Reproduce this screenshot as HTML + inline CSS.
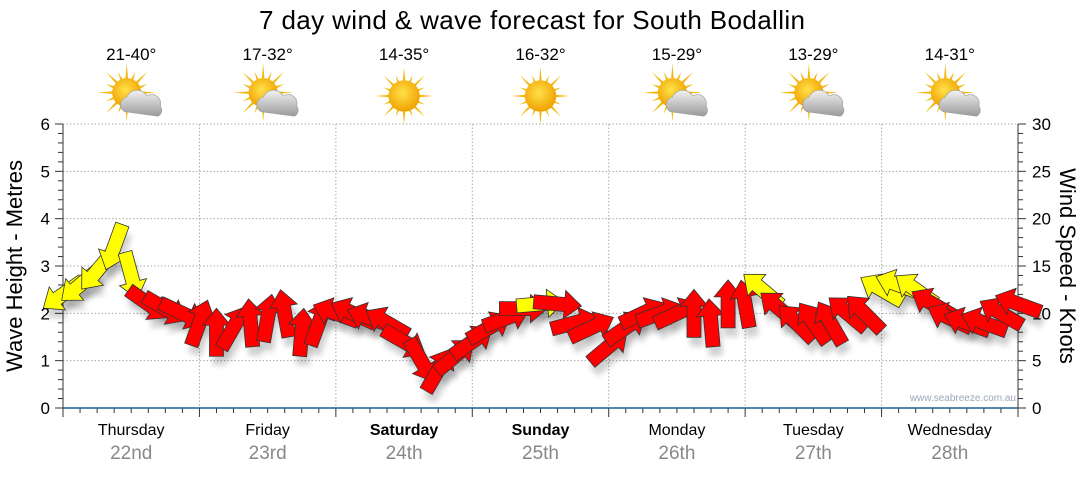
<!DOCTYPE html>
<html><head><meta charset="utf-8"><style>
body{margin:0;background:#fff;}
svg{font-family:"Liberation Sans",sans-serif;}
</style></head><body>
<svg id="chart" width="1080" height="475" viewBox="0 0 1080 475">
<defs>
<filter id="sh" x="-50%" y="-50%" width="200%" height="200%"><feGaussianBlur stdDeviation="3"/></filter>
<radialGradient id="sun" cx="45%" cy="40%" r="60%"><stop offset="0" stop-color="#ffe24a"/><stop offset="1" stop-color="#f0a000"/></radialGradient>
<linearGradient id="cloud" x1="0" y1="0" x2="0" y2="1"><stop offset="0" stop-color="#f2f2f2"/><stop offset="1" stop-color="#9a9a9a"/></linearGradient>
</defs>
<text x="532" y="29" font-size="26" text-anchor="middle" fill="#000" textLength="546">7 day wind &amp; wave forecast for South Bodallin</text>
<g id="grid"></g>
<g id="axes"></g>
<g id="icons"></g>
<g id="shadows"></g>
<g id="arrows"></g>
<text x="1016" y="401" font-size="10" text-anchor="end" fill="#9aa8bb">www.seabreeze.com.au</text>
<text transform="translate(22,266) rotate(-90)" font-size="22" text-anchor="middle" fill="#000">Wave Height - Metres</text>
<text transform="translate(1060,266) rotate(90)" font-size="22" text-anchor="middle" fill="#000">Wind Speed - Knots</text>
</svg>
<script>
const days = ["Thursday","Friday","Saturday","Sunday","Monday","Tuesday","Wednesday"];
const dates = ["22nd","23rd","24th","25th","26th","27th","28th"];
const temps = ["21-40°","17-32°","14-35°","16-32°","15-29°","13-29°","14-31°"];
const sunny = [false,false,true,true,false,false,false];
const boldDays = [false,false,true,true,false,false,false];
const waveTicks = [0,1,2,3,4,5,6];
const windTicks = [0,5,10,15,20,25,30];
// wind speed (knots) every 3 hours
const windSpeed = [12,13,14.5,17,14,11,10.5,10,
  9,8,8.5,9,9.5,10,8,9,
  10,10,9.5,9,7,5,4,5.5,
  7,8.5,9.5,10.5,11,11,9,8.5,
  6.5,8.5,10,10,10,10,9,11,
  11,12.5,10.5,9,9,9,10,10,
  12.5,13,12.5,11,9.5,9,9,10,11];
// arrow direction, screen degrees (0 = right, 90 = down)
const windDir = [145,140,130,110,75,35,30,25,
  -70,-90,-60,-95,-80,-100,-85,-70,
  -160,-155,-160,-150,30,60,-60,-40,
  -35,-30,-20,0,-5,5,-15,-25,
  -40,-35,-25,-20,-25,-90,-95,-90,
  -100,-140,-140,-135,-125,-120,-140,-135,
  -150,-160,-145,-150,-155,-160,-160,-150,-160];
const windColor = ["y","y","y","y","y","r","r","r",
  "r","r","r","r","r","r","r","r",
  "r","r","r","r","r","r","r","r",
  "r","r","r","r","y","r","r","r",
  "r","r","r","r","r","r","r","r",
  "r","y","r","r","r","r","r","r",
  "y","y","y","r","r","r","r","r","r"];
const NS="http://www.w3.org/2000/svg";
const X0=63,X1=1018,Y0=408,Y1=124;
const dayW=(X1-X0)/7;
function xT(h){return X0+h/24*dayW;}
function yW(m){return Y0-(m/6)*(Y0-Y1);}
function yK(k){return Y0-(k/30)*(Y0-Y1);}
function mk(tag,attrs,parent){const e=document.createElementNS(NS,tag);for(const k in attrs)e.setAttribute(k,attrs[k]);parent.appendChild(e);return e;}
const grid=document.getElementById('grid'),axes=document.getElementById('axes'),icons=document.getElementById('icons');
waveTicks.forEach(v=>{
  if(v>0){const l=mk('line',{x1:X0,x2:X1,y1:yW(v),y2:yW(v),stroke:'#aaa','stroke-dasharray':'1.5,2'},grid);
  
  }
  const t=mk('text',{x:X0-13,y:yW(v)+6,'font-size':17,'text-anchor':'end',fill:'#000'},axes);t.textContent=v;
  
  
});
for(let i=0;i<=30;i++){const y=yK(i);mk('line',{x1:X1,x2:X1+(i%5?5:8),y1:y,y2:y,stroke:'#333'},axes);}
for(let i=0;i<=30;i++){const y=yW(i*0.2);mk('line',{x1:X0,x2:X0-(i%5?5:8),y1:y,y2:y,stroke:'#333'},axes);}
windTicks.forEach(v=>{const t=mk('text',{x:X1+14,y:yK(v)+6,'font-size':17,fill:'#000'},axes);t.textContent=v;
  
  });
mk('line',{x1:X0,x2:X0,y1:Y1,y2:Y0,stroke:'#333'},axes);
mk('line',{x1:X1,x2:X1,y1:Y1,y2:Y0,stroke:'#333'},axes);
for(let d=1;d<7;d++){const l=mk('line',{x1:xT(d*24),x2:xT(d*24),y1:Y1,y2:Y0,stroke:'#aaa','stroke-dasharray':'1.5,2'},grid);
  
  }
for(let h=0;h<=168;h+=3){const x=xT(h);mk('line',{x1:x,x2:x,y1:Y0,y2:Y0+(h%24?5:9),stroke:'#333'},axes);}
mk('line',{x1:X0,x2:X1,y1:Y0,y2:Y0,stroke:'#1f5f8f','stroke-width':1.5},axes);
days.forEach((d,i)=>{
  const cx=xT(i*24+12);
  const t=mk('text',{x:cx,y:435,'font-size':16,'text-anchor':'middle',fill:'#000','font-weight':boldDays[i]?'bold':'normal'},axes);t.textContent=d;
  
  
  const t2=mk('text',{x:cx,y:459,'font-size':19,'text-anchor':'middle',fill:'#888'},axes);t2.textContent=dates[i];
  
  
  const t3=mk('text',{x:cx,y:60,'font-size':17,'text-anchor':'middle',fill:'#000'},icons);t3.textContent=temps[i];
  
  
  const g=mk('g',{transform:`translate(${cx},96) scale(1.12)`},icons);
  
  
  const sx=sunny[i]?0:-4,sy=sunny[i]?0:-3;
  for(let a=0;a<16;a++){const ang=a*Math.PI/8,r=a%2?20:26;
    mk('polygon',{points:`${sx+Math.cos(ang-0.12)*11},${sy+Math.sin(ang-0.12)*11} ${sx+Math.cos(ang)*r},${sy+Math.sin(ang)*r} ${sx+Math.cos(ang+0.12)*11},${sy+Math.sin(ang+0.12)*11}`,fill:'#f2b90f'},g);}
  mk('circle',{cx:sx,cy:sy,r:sunny[i]?14:13,fill:'url(#sun)'},g);
  if(!sunny[i]){
    mk('path',{d:'M-6,14 a7,7 0 0 1 2,-13 a10,10 0 0 1 18,-1 a8,8 0 0 1 12,9 a6,6 0 0 1 -2,9 z',fill:'url(#cloud)',stroke:'#999','stroke-width':0.5},g);
  }
});
const arrows=document.getElementById('arrows'),shadows=document.getElementById('shadows');
function arrowPath(){return 'M-24,-7 L7,-7 L7,-14 L24,0 L7,14 L7,7 L-24,7 Z';}
windSpeed.forEach((s,i)=>{
  const x=xT(i*3),y=yK(s);
  const sh=mk('path',{d:arrowPath(),transform:`translate(${x+3},${y+9}) rotate(${windDir[i]})`,fill:'#000',opacity:0.18,filter:'url(#sh)'},shadows);
  
  
  const a=mk('path',{d:arrowPath(),transform:`translate(${x},${y}) rotate(${windDir[i]})`,fill:windColor[i]==='y'?'#ffff00':'#ff0000',stroke:'#333','stroke-width':0.8},arrows);
  
  
});
</script>
</body></html>
